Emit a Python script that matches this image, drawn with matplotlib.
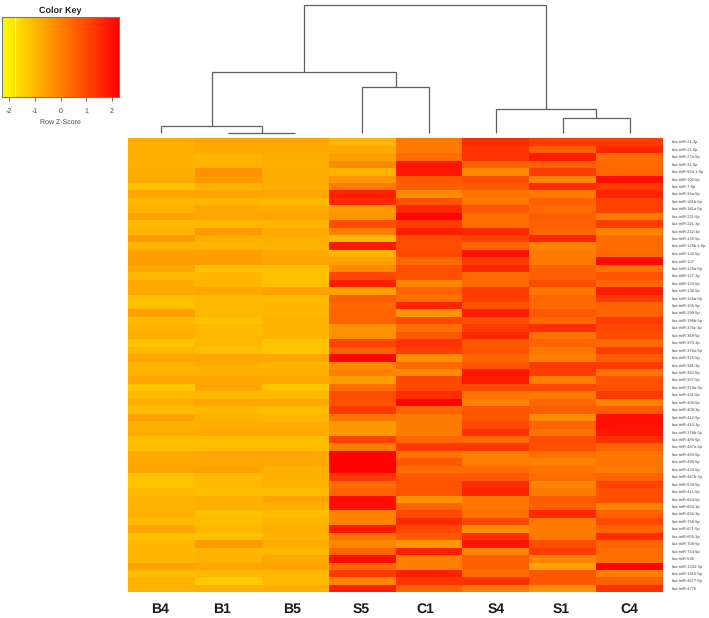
import matplotlib
matplotlib.use("Agg")
import matplotlib.pyplot as plt
from matplotlib.transforms import blended_transform_factory
import numpy as np
from matplotlib.colors import LinearSegmentedColormap

plt.rcParams['font.family'] = ['Liberation Sans', 'DejaVu Sans']
plt.rcParams['text.hinting'] = 'none'
plt.rcParams['text.hinting_factor'] = 1

samples = ["B4", "B1", "B5", "S5", "C1", "S4", "S1", "C4"]
mirnas = ["hsa-miR-21-3p", "hsa-miR-21-5p", "hsa-miR-27a-5p", "hsa-miR-31-5p", "hsa-miR-92a-1-5p",
          "hsa-miR-100-5p", "hsa-miR-7-5p", "hsa-miR-34a-5p", "hsa-miR-181b-5p", "hsa-miR-181a-5p",
          "hsa-miR-221-5p", "hsa-miR-221-3p", "hsa-miR-222-3p", "hsa-miR-130-5p", "hsa-miR-125b-1-5p",
          "hsa-miR-132-5p", "hsa-miR-137", "hsa-miR-125a-5p", "hsa-miR-127-3p", "hsa-miR-134-5p",
          "hsa-miR-136-5p", "hsa-miR-146a-5p", "hsa-miR-155-5p", "hsa-miR-299-5p", "hsa-miR-196b-5p",
          "hsa-miR-376c-3p", "hsa-miR-369-5p", "hsa-miR-370-3p", "hsa-miR-376a-5p", "hsa-miR-375-5p",
          "hsa-miR-381-3p", "hsa-miR-382-5p", "hsa-miR-337-5p", "hsa-miR-323a-3p", "hsa-miR-431-5p",
          "hsa-miR-409-5p", "hsa-miR-409-3p", "hsa-miR-412-5p", "hsa-miR-410-3p", "hsa-miR-376b-3p",
          "hsa-miR-485-5p", "hsa-miR-487a-3p", "hsa-miR-493-5p", "hsa-miR-495-5p", "hsa-miR-433-5p",
          "hsa-miR-487b-3p", "hsa-miR-539-5p", "hsa-miR-411-5p", "hsa-miR-654-5p", "hsa-miR-654-3p",
          "hsa-miR-656-3p", "hsa-miR-758-5p", "hsa-miR-671-5p", "hsa-miR-655-3p", "hsa-miR-708-5p",
          "hsa-miR-744-5p", "hsa-miR-548", "hsa-miR-1304-3p", "hsa-miR-1916-5p", "hsa-miR-4677-5p",
          "hsa-miR-4775"]

B4 = [-.85,-.85,-.85,-.9,-.8,-.8,-1.15,-.7,-1.0,-.9,
      -.6,-1.05,-.9,-.5,-.95,-.55,-.55,-.7,-1.05,-.75,
      -.75,-1.15,-1.15,-.6,-1.05,-.9,-.85,-1.25,-1.0,-.7,
      -.95,-.9,-.65,-1.25,-1.0,-.8,-1.1,-.6,-.85,-.8,
      -1.1,-1.1,-.75,-.75,-.7,-1.2,-1.2,-1.05,-.9,-.9,
      -.9,-1.0,-.7,-1.15,-1.0,-1.0,-1.0,-.6,-1.1,-.9,-.9]
B1 = [-.7,-.75,-.95,-.9,-.3,-.5,-.9,-.65,-.95,-.75,
      -.7,-1.0,-.5,-.85,-.95,-.55,-.55,-1.15,-1.0,-.95,
      -.7,-1.05,-1.05,-1.05,-1.2,-1.05,-1.05,-1.0,-1.15,-.7,
      -.85,-.9,-.7,-.7,-1.05,-.65,-1.05,-.9,-.85,-.75,
      -1.1,-1.1,-.7,-.75,-.6,-1.05,-1.05,-1.1,-.85,-.85,
      -1.15,-1.1,-1.0,-1.15,-.5,-.95,-.9,-.7,-1.05,-1.35,-.85]
B5 = [-.7,-.75,-.8,-.85,-.8,-.8,-.8,-.7,-1.0,-.8,
      -.65,-.95,-.75,-.85,-.9,-.75,-.65,-1.15,-1.15,-1.15,
      -.6,-1.1,-1.0,-1.0,-.95,-.95,-.95,-1.2,-1.25,-.65,
      -.95,-.85,-.7,-1.25,-1.05,-.7,-1.1,-.95,-.8,-.75,
      -1.1,-1.1,-.7,-.75,-.85,-.9,-.9,-1.1,-.65,-.85,
      -1.1,-.95,-.85,-.95,-.8,-1.05,-.75,-.65,-1.0,-1.05,-.85]
S5 = [-1.0,-.75,-.55,-.2,-.9,-.4,.1,1.7,1.6,-.5,
      -.4,.9,0,-1.0,1.8,-.95,-.6,-.2,1.0,1.75,
      -.6,.6,.4,.45,.5,-.3,-.3,1.1,.55,2.2,
      -.15,0,-.55,.3,.9,.8,1.25,.2,-.45,-.45,
      1.1,.05,2.25,2.25,2.25,1.3,.35,.5,2.05,2.05,
      -.05,-.05,1.85,.2,-.1,.5,2.05,.4,1.25,-.1,1.75]
C1 = [.1,.1,.35,1.9,1.9,.7,.6,-.2,.8,1.6,
      2.2,1.2,1.75,.9,.9,1.0,.4,.85,.85,-.1,
      .5,.3,1.6,-.4,1.0,.3,.7,1.4,1.2,-.25,
      .4,-.2,1.0,1.0,1.5,2.25,.5,.1,.1,.1,
      .45,1.3,.2,.7,.35,.7,.8,.8,-.3,.45,
      1.0,1.55,1.0,.7,-.4,1.7,0,0,1.7,1.35,.45]
S4 = [1.5,1.35,1.35,.55,-.2,.9,.7,.2,.1,.75,
      .3,.35,1.6,1.1,.5,2.0,1.2,1.6,.4,.4,
      1.2,1.2,.8,1.8,.85,1.2,1.6,.7,.8,.45,
      .75,1.85,1.85,1.0,.2,-.1,.75,.8,1.0,1.4,
      .35,1.3,.05,.05,.4,.7,1.5,1.65,.15,.15,
      .3,1.0,-.3,1.45,1.9,-.05,.55,.55,.3,1.4,.1]
S1 = [1.2,.6,1.8,.55,1.2,-.1,1.5,.1,.55,.4,
      .6,.55,.5,1.65,-.05,.05,.1,.55,.55,.9,
      .15,.45,.4,.7,.4,1.45,.2,.5,.15,0,
      1.2,1.2,.05,1.0,.1,.45,.6,-.2,.5,.2,
      .9,.85,.3,-.05,.2,.35,-.1,.1,.65,.6,
      1.6,.1,.1,.1,.9,1.2,-.1,-.6,.75,.75,-.3]
C4 = [1.2,1.6,.35,.4,.4,2.0,1.2,1.65,1.1,1.1,
      .1,1.2,-.05,.35,.35,.4,2.1,.2,.8,.45,
      1.8,1.2,.5,.5,1.25,1.0,.9,.4,1.2,.6,
      1.2,.15,.8,.8,1.2,-.05,.65,2.0,2.0,1.85,
      1.4,.5,.15,.15,.1,.5,1.1,.85,.85,-.1,
      .55,1.0,.5,1.5,.5,.35,.3,2.2,.05,.55,1.4]

# dendrogram: merge heights (arbitrary distance units)
h_B1_B5 = 0.5
h_B = 7
h_S5_C1 = 46
h_S1_C4 = 15
h_S4_S1C4 = 24.5
h_left = 61
h_root = 128

key_ticks = [-2, -1, 0, 1, 2]
key_limit = 2.29
density_line = -1.77

W, H = 709, 618
fig = plt.figure(figsize=(W / 100, H / 100), dpi=100, facecolor="white")

def box(l, t, r, b):
    return [l / W, 1 - b / H, (r - l) / W, (b - t) / H]

cmap = LinearSegmentedColormap.from_list("ky", ["#FFFF00", "#FF8000", "#FF0000"])
text_col = "#444444"

# heatmap
ax = fig.add_axes(box(128, 138.3, 663, 592.3))
Z = np.array([B4, B1, B5, S5, C1, S4, S1, C4]).T
ax.pcolormesh(np.arange(9), np.arange(len(mirnas) + 1), Z, cmap=cmap,
              vmin=-key_limit, vmax=key_limit, shading="flat")
ax.set_xlim(0, 8)
ax.set_ylim(len(mirnas), 0)
for s in ax.spines.values():
    s.set_visible(False)
ax.set_xticks([])
ax.yaxis.tick_right()
ax.set_yticks(np.arange(len(mirnas)) + 0.5, mirnas, fontsize=3.1, color=text_col)
ax.tick_params(axis="y", length=0, pad=6.5)

# sample names sit on one baseline; several lie slightly left of their column centre
name_shift = [-0.02, -0.10, -0.05, -0.02, -0.06, 0, -0.03, 0]
trans = blended_transform_factory(ax.transData, fig.transFigure)
for i, name in enumerate(samples):
    ax.text(i + 0.5 + name_shift[i], 1 - 612.7 / H, name, transform=trans, ha="center",
            va="baseline", fontsize=10, fontweight="bold", color="#1a1a1a", clip_on=False)

# column dendrogram
dax = fig.add_axes(box(128, 0, 663, 138.3))
dax.set_xlim(0, 8)
dax.set_ylim(-5.3, 133)
dax.axis("off")
leaf = {s: i + 0.5 for i, s in enumerate(samples)}

def merge(a, b, h):
    xa, ya = a
    xb, yb = b
    dax.plot([xa, xa, xb, xb], [ya, h, h, yb], color="#5f5f5f", lw=0.9,
             solid_joinstyle="miter", solid_capstyle="butt")
    return ((xa + xb) / 2, h)

n_B1B5 = merge((leaf["B1"], 0), (leaf["B5"], 0), h_B1_B5)
n_B = merge((leaf["B4"], 0), n_B1B5, h_B)
n_SC = merge((leaf["S5"], 0), (leaf["C1"], 0), h_S5_C1)
n_L = merge(n_B, n_SC, h_left)
n_SC4 = merge((leaf["S1"], 0), (leaf["C4"], 0), h_S1_C4)
n_R = merge((leaf["S4"], 0), n_SC4, h_S4_S1C4)
merge(n_L, n_R, h_root)

# colour key
kax = fig.add_axes(box(1.7, 17, 119.4, 96.7))
grad = np.linspace(-key_limit, key_limit, 256)[None, :]
kax.imshow(grad, extent=[-key_limit, key_limit, 0, 1], aspect="auto", cmap=cmap,
           vmin=-key_limit, vmax=key_limit, interpolation="bilinear")
kax.axvline(density_line, color="#FFF6A0", lw=0.8)
kax.set_yticks([])
kax.set_xticks(key_ticks, [str(t) for t in key_ticks], fontsize=5.2, color=text_col)
kax.tick_params(axis="x", length=3, width=0.7, color="#666666", pad=5)
for s in kax.spines.values():
    s.set_color("#777777")
    s.set_linewidth(0.8)
kax.set_title("Color Key", fontsize=6.6, fontweight="bold", color="#222222", pad=3)
kax.set_xlabel("Row Z-Score", fontsize=5.2, color=text_col, labelpad=3)

fig.savefig("out.png", dpi=100, facecolor="white")
